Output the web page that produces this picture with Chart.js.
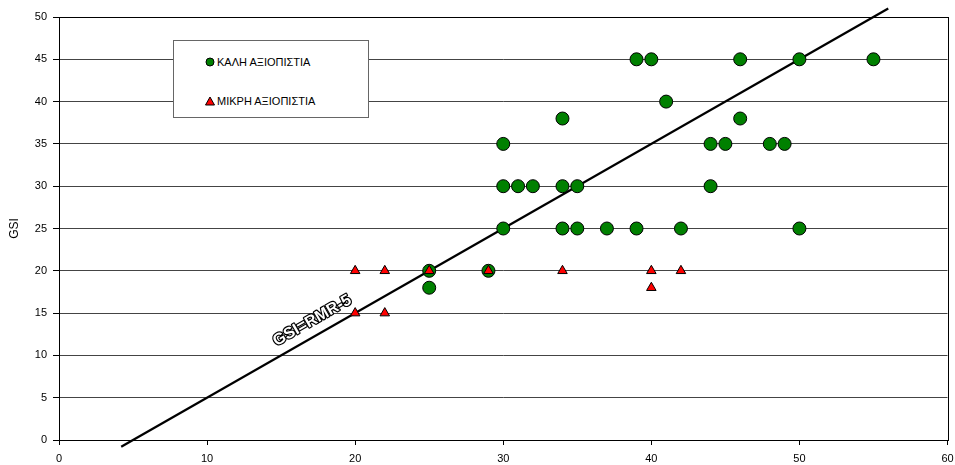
<!DOCTYPE html>
<html>
<head>
<meta charset="utf-8">
<script src="https://cdn.jsdelivr.net/npm/chart.js@4/dist/chart.umd.min.js"></script>
<style>
  html, body { margin: 0; padding: 0; background: #fff; }
  #wrap { position: relative; width: 955px; height: 465px; }
  #legend { position: absolute; left: 173px; top: 40px; width: 196px; height: 78px; box-sizing: border-box;
    border: 1px solid #666; background: #fff; font-family: "Liberation Sans", Arial, sans-serif; font-size: 11px; color: #000; }
  .item { position: absolute; left: 31px; height: 14px; line-height: 14px; white-space: nowrap; }
  .item svg { position: absolute; left: 0; top: 2px; }
  .item span { position: absolute; left: 12px; top: 0; }
</style>
</head>
<body>
<div id="wrap">
  <canvas id="c" width="955" height="465"></canvas>
  <div id="legend">
    <div class="item" style="top:14px"><svg width="10" height="10"><circle cx="5" cy="5" r="4" fill="#008000" stroke="#000" stroke-width="1"/></svg><span id="lg0"></span></div>
    <div class="item" style="top:53px"><svg width="10" height="10"><polygon points="5,1 9.5,9 0.5,9" fill="#ff0000" stroke="#000" stroke-width="1"/></svg><span id="lg1"></span></div>
  </div>
</div>
<script>
// ---- data ----
const seriesNames = ["ΚΑΛΗ ΑΞΙΟΠΙΣΤΙΑ", "ΜΙΚΡΗ ΑΞΙΟΠΙΣΤΙΑ"];
const goodRMR = [30, 30, 31, 32, 34, 34, 34, 35, 35, 30, 25, 25, 29, 37, 39, 39, 40, 41, 42, 44, 44, 45, 46, 46, 48, 49, 50, 50, 55];
const goodGSI = [35, 30, 30, 30, 38, 30, 25, 30, 25, 25, 20, 18, 20, 25, 25, 45, 45, 40, 25, 35, 30, 35, 45, 38, 35, 35, 45, 25, 45];
const poorRMR = [20, 22, 25, 29, 34, 40, 42, 20, 22, 40];
const poorGSI = [20, 20, 20, 20, 20, 20, 20, 15, 15, 18];
const fitRMR = [4.2, 56];
const fitGSI = [-0.8, 51];
const fitLabel = "GSI=RMR-5";
const fitLabelAt = [17.1, 14.1];
const yTitle = "GSI";
const xTicks = [0, 10, 20, 30, 40, 50, 60];
const yTicks = [0, 5, 10, 15, 20, 25, 30, 35, 40, 45, 50];

document.getElementById('lg0').textContent = seriesNames[0];
document.getElementById('lg1').textContent = seriesNames[1];

const toPts = (xs, ys) => xs.map((x, i) => ({ x: x, y: ys[i] }));
const FONT = "'Liberation Sans', Arial, sans-serif";

const borderPlugin = {
  id: 'plotBorder',
  afterDatasetsDraw(chart) {
    const a = chart.chartArea, ctx = chart.ctx;
    ctx.save();
    ctx.strokeStyle = '#000';
    ctx.lineWidth = 1;
    ctx.strokeRect(Math.round(a.left) + 0.5, Math.round(a.top) + 0.5, Math.round(a.right - a.left), Math.round(a.bottom - a.top));
    // fit-line label
    const xs = chart.scales.x, ys = chart.scales.y;
    const p0x = xs.getPixelForValue(fitRMR[0]), p0y = ys.getPixelForValue(fitGSI[0]);
    const p1x = xs.getPixelForValue(fitRMR[1]), p1y = ys.getPixelForValue(fitGSI[1]);
    const ang = Math.atan2(p1y - p0y, p1x - p0x);
    const cx = xs.getPixelForValue(fitLabelAt[0]), cy = ys.getPixelForValue(fitLabelAt[1]);
    ctx.translate(cx, cy);
    ctx.rotate(ang);
    ctx.font = "bold 16px " + FONT;
    ctx.textAlign = 'center';
    ctx.textBaseline = 'middle';
    ctx.lineWidth = 2.4;
    ctx.lineJoin = 'round';
    ctx.strokeStyle = '#000';
    ctx.strokeText(fitLabel, 0, 0);
    ctx.fillStyle = '#fff';
    ctx.fillText(fitLabel, 0, 0);
    ctx.restore();
  }
};

new Chart(document.getElementById('c'), {
  type: 'scatter',
  data: {
    datasets: [
      { label: seriesNames[1], data: toPts(poorRMR, poorGSI), order: 0,
        pointStyle: 'triangle', pointRadius: 5.5, pointHoverRadius: 5.5,
        backgroundColor: '#ff0000', borderColor: '#000', borderWidth: 1 },
      { label: seriesNames[0], data: toPts(goodRMR, goodGSI), order: 1,
        pointStyle: 'circle', pointRadius: 6.5, pointHoverRadius: 6.5,
        backgroundColor: '#008000', borderColor: '#000', borderWidth: 1 },
      { label: fitLabel, data: toPts(fitRMR, fitGSI), order: 2, showLine: true, clip: false,
        pointRadius: 0, borderColor: '#000', borderWidth: 2.2, backgroundColor: '#000' }
    ]
  },
  options: {
    responsive: false,
    animation: false,
    devicePixelRatio: 1,
    layout: { padding: { left: 0, right: 6, top: 17, bottom: 0 } },
    plugins: { legend: { display: false }, tooltip: { enabled: false } },
    scales: {
      x: {
        type: 'linear', min: 0, max: 60,
        afterBuildTicks(s) { s.ticks = xTicks.map(v => ({ value: v })); },
        afterFit(s) { s.height = 25; s.paddingLeft = 0; s.paddingRight = 0; },
        ticks: { color: '#000', font: { family: FONT, size: 11 }, padding: 7, maxRotation: 0 },
        grid: { drawOnChartArea: false, drawTicks: true, tickLength: 5, color: '#000' },
        border: { color: '#000', width: 1 }
      },
      y: {
        type: 'linear', min: 0, max: 50,
        afterBuildTicks(s) { s.ticks = yTicks.map(v => ({ value: v })); },
        afterFit(s) { s.width = 59; s.paddingTop = 0; s.paddingBottom = 0; },
        ticks: { color: '#000', font: { family: FONT, size: 11 }, padding: 6 },
        grid: { color: '#444', lineWidth: 1, tickLength: 6, tickColor: '#000' },
        border: { color: '#000', width: 1 },
        title: { display: true, text: yTitle, color: '#000', font: { family: FONT, size: 12 }, padding: { top: 7, bottom: 0 } }
      }
    }
  },
  plugins: [borderPlugin]
});
</script>
</body>
</html>
